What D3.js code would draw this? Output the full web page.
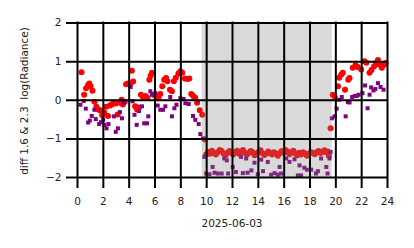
<!DOCTYPE html>
<html>
<head>
<meta charset="utf-8">
<script src="https://cdn.jsdelivr.net/npm/d3@7"></script>
<style>
  body { margin: 0; background: #fff; }
  svg { display: block; font-family: "DejaVu Sans", sans-serif; }
</style>
</head>
<body>
<div id="container"></div>
<script>
// data (hour of day, diff log radiance)
let redHours = [0.35, 0.55, 0.7, 0.85, 0.95, 1.05, 1.2, 1.35, 1.5, 1.65, 1.8, 1.95, 2.1, 2.25, 2.4, 2.55, 2.7, 2.85, 3.0, 3.15,
  3.3, 3.45, 3.55, 3.7, 3.8, 3.95, 4.1, 4.25, 4.35, 4.5, 4.65, 4.8, 4.95, 5.1, 5.3, 5.45, 5.6, 5.7, 5.8, 5.95,
  6.1, 6.3, 6.45, 6.6, 6.75, 6.9, 7.0, 7.2, 7.35, 7.5, 7.65, 7.85, 8.0, 8.15, 8.35, 8.55, 8.7, 8.85, 9.0, 9.15,
  9.3, 9.5, 9.7, 9.9, 10.0,
  10.15, 10.3, 10.45, 10.6, 10.75, 10.9, 11.05, 11.2, 11.35, 11.5, 11.65, 11.8, 11.95, 12.1, 12.25, 12.4, 12.55, 12.7, 12.85, 13.0,
  13.15, 13.3, 13.45, 13.6, 13.75, 13.9, 14.05, 14.2, 14.35, 14.5, 14.65, 14.8, 14.95, 15.1, 15.25, 15.4, 15.55, 15.7, 15.85, 16.0,
  16.15, 16.3, 16.45, 16.6, 16.75, 16.9, 17.05, 17.2, 17.35, 17.5, 17.65, 17.8, 17.95, 18.1, 18.25, 18.4, 18.55, 18.7, 18.85, 19.0,
  19.15, 19.3, 19.4, 19.5,
  19.63, 19.8, 19.95, 20.2, 20.3, 20.45, 20.58, 20.75, 21.0, 21.1, 21.35, 21.56, 21.74, 22.0, 22.26, 22.4, 22.65, 22.8, 23.0, 23.15,
  23.3, 23.4, 23.6, 23.8, 23.9];
let redValues = [0.71, 0.13, 0.30, 0.38, 0.42, 0.35, 0.23, -0.05, -0.18, -0.25, -0.28, -0.40, -0.33, -0.18, -0.42, -0.15, -0.12, -0.08, -0.10, -0.38,
  -0.08, 0.00, -0.12, -0.05, 0.40, 0.42, 0.40, 0.75, 0.47, -0.17, -0.25, -0.20, 0.13, 0.08, 0.10, 0.05, 0.52, 0.62, 0.70, 0.13,
  0.10, 0.04, 0.15, 0.35, 0.52, 0.56, 0.48, 0.26, 0.22, 0.48, 0.57, 0.68, 0.74, 0.70, 0.55, 0.54, 0.55, 0.15, 0.10, 0.05,
  -0.08, -0.27, -0.39, -1.03, -1.42,
  -1.35, -1.40, -1.32, -1.38, -1.42, -1.36, -1.30, -1.33, -1.39, -1.44, -1.37, -1.33, -1.38, -1.42, -1.36, -1.32, -1.40, -1.35, -1.30, -1.37,
  -1.42, -1.38, -1.33, -1.36, -1.44, -1.39, -1.35, -1.31, -1.38, -1.43, -1.40, -1.34, -1.37, -1.42, -1.36, -1.39, -1.45, -1.38, -1.33, -1.38,
  -1.30, -1.34, -1.41, -1.36, -1.32, -1.39, -1.44, -1.37, -1.42, -1.36, -1.39, -1.45, -1.40, -1.35, -1.38, -1.41, -1.36, -1.33, -1.38, -1.35,
  -1.31, -1.36, -1.34, -1.45,
  -0.74, 0.13, 0.08, 0.35, 0.57, 0.65, 0.70, 0.26, 0.52, 0.56, 0.83, 0.89, 0.85, 0.78, 1.00, 0.96, 0.70, 0.77, 0.87, 0.95,
  1.03, 0.91, 0.83, 0.91, 0.95];

let purpleHours = [0.26, 0.52, 0.68, 0.86, 0.99, 1.14, 1.35, 1.45, 1.71, 1.85, 2.03, 2.13, 2.29, 2.44, 2.86, 3.0, 3.17, 3.32, 3.48, 3.64,
  4.15, 4.3, 4.45, 4.62, 4.8, 5.03, 5.2, 5.42, 5.52, 5.68, 5.8, 6.06, 6.25, 6.45, 6.66, 6.84, 7.22, 7.35, 7.54, 7.7,
  8.0, 8.26, 8.39, 8.65, 8.98, 9.16, 9.42, 9.55, 9.75, 9.86, 10.0,
  10.26, 10.5, 10.65, 10.9, 11.2, 11.4, 11.6, 11.7, 12.06, 12.3, 12.7, 12.84, 13.1, 13.2, 13.5, 13.74, 14.0, 14.26, 14.4, 14.77,
  15.03, 15.3, 15.55, 15.68, 15.8, 16.2, 16.45, 16.84, 17.1, 17.23, 17.35, 17.6, 17.8, 18.13, 18.5, 18.65, 18.9, 19.3, 19.4, 19.55,
  19.63,
  19.73, 19.94, 20.1, 20.3, 20.5, 20.8, 20.97, 21.1, 21.3, 21.5, 21.66, 21.8, 22.1, 22.3, 22.5, 22.65, 22.77, 22.95, 23.1, 23.3,
  23.5, 23.73];
let purpleValues = [-0.13, -0.03, -0.23, -0.59, -0.54, -0.42, -0.26, -0.50, -0.63, -0.58, -0.52, -0.65, -0.74, -0.63, -0.43, -0.83, -0.74, -0.32, -0.48, -0.07,
  0.33, -0.04, -0.39, -0.65, -0.29, -0.17, -0.61, -0.61, -0.43, 0.22, 0.13, 0.17, -0.15, -0.26, -0.26, -0.17, 0.07, -0.43, -0.22, -0.13,
  0.04, 0.02, -0.09, -0.11, -0.42, -0.52, -0.63, -0.89, -1.00, -1.48, -1.91,
  -1.93, -1.74, -1.89, -1.91, -1.91, -1.52, -1.57, -1.91, -1.74, -1.87, -1.48, -1.90, -1.52, -1.89, -1.83, -1.63, -1.93, -1.55, -1.85, -1.61,
  -1.94, -1.90, -1.94, -1.74, -1.91, -1.52, -1.61, -1.54, -1.96, -1.70, -1.96, -1.76, -1.81, -1.81, -1.91, -1.85, -1.52, -1.74, -1.91, -1.52,
  -1.35,
  -0.48, -0.43, -0.23, 0.00, 0.07, -0.43, -0.06, -0.07, 0.07, 0.10, 0.10, 0.13, 0.17, 0.37, -0.22, 0.13, 0.32, 0.24, 0.28, 0.43,
  0.33, 0.26];

let xTicks = [0, 2, 4, 6, 8, 10, 12, 14, 16, 18, 20, 22, 24];
let yTicks = [-2, -1, 0, 1, 2];
let shadeSpan = [9.65, 19.72];   // hours
let xLabel = "2025-06-03";
let yLabel = "diff 1.6 & 2.3  log(Radiance)";

// layout
let w = 414;
let h = 248;
let pLeft = 77, pRight = 387, pTop = 22.5, pBottom = 177;
let tickLen = 10;

let viz = d3.select("#container")
  .append("svg")
    .attr("width", w)
    .attr("height", h)
    .style("background", "#fff")
;

let xScale = d3.scaleLinear().domain([0, 24]).range([pLeft, pRight]);
let yScale = d3.scaleLinear().domain([-2, 2]).range([pBottom, pTop]);

let red = redHours.map(function(d, i){ return {h: d, v: redValues[i]}; });
let purple = purpleHours.map(function(d, i){ return {h: d, v: purpleValues[i]}; });

// red points
viz.append("g").selectAll("circle").data(red).enter()
  .append("circle")
    .attr("cx", function(d){ return xScale(d.h); })
    .attr("cy", function(d){ return yScale(d.v); })
    .attr("r", 3)
    .attr("fill", "red")
;

// purple squares on top
let sq = 4;
viz.append("g").selectAll("rect").data(purple).enter()
  .append("rect")
    .attr("x", function(d){ return xScale(d.h) - sq/2; })
    .attr("y", function(d){ return yScale(d.v) - sq/2; })
    .attr("width", sq)
    .attr("height", sq)
    .attr("fill", "purple")
;

// gray span drawn over the points
viz.append("rect")
  .attr("x", xScale(shadeSpan[0]))
  .attr("y", pTop)
  .attr("width", xScale(shadeSpan[1]) - xScale(shadeSpan[0]))
  .attr("height", pBottom - pTop)
  .attr("fill", "gray")
  .attr("opacity", 0.3)
;

// x axis: ticks run up as grid lines
let xAxis = d3.axisBottom(xScale)
  .tickValues(xTicks)
  .tickFormat(d3.format("d"))
  .tickSize(-(pBottom + tickLen - pTop))
  .tickPadding(10.5);
let xAxisGroup = viz.append("g").attr("class", "xaxis")
  .attr("transform", "translate(0," + (pBottom + tickLen) + ")")
  .call(xAxis);

// y axis: ticks run right as grid lines
let yAxis = d3.axisLeft(yScale)
  .tickValues(yTicks)
  .tickFormat(d3.format("d"))
  .tickSize(-(pRight - (pLeft - tickLen)))
  .tickPadding(5.5);
let yAxisGroup = viz.append("g").attr("class", "yaxis")
  .attr("transform", "translate(" + (pLeft - tickLen) + ",0)")
  .call(yAxis);

viz.selectAll(".xaxis .domain, .yaxis .domain").remove();
viz.selectAll(".xaxis line, .yaxis line")
  .attr("stroke", "#000")
  .attr("stroke-width", 2)
  .attr("stroke-linecap", "square");
viz.selectAll(".xaxis text, .yaxis text")
  .attr("fill", "#222")
  .style("font-size", "10.5px")
  .style("font-family", "DejaVu Sans");

// axis titles
viz.append("text")
  .text(xLabel)
  .attr("x", (pLeft + pRight) / 2)
  .attr("y", 227)
  .attr("text-anchor", "middle")
  .attr("fill", "#222")
  .style("font-size", "10.5px");

viz.append("text")
  .text(yLabel)
  .attr("transform", "translate(28,101) rotate(-90)")
  .attr("text-anchor", "middle")
  .attr("fill", "#222")
  .style("font-size", "10.5px")
  .style("white-space", "pre");
</script>
</body>
</html>
